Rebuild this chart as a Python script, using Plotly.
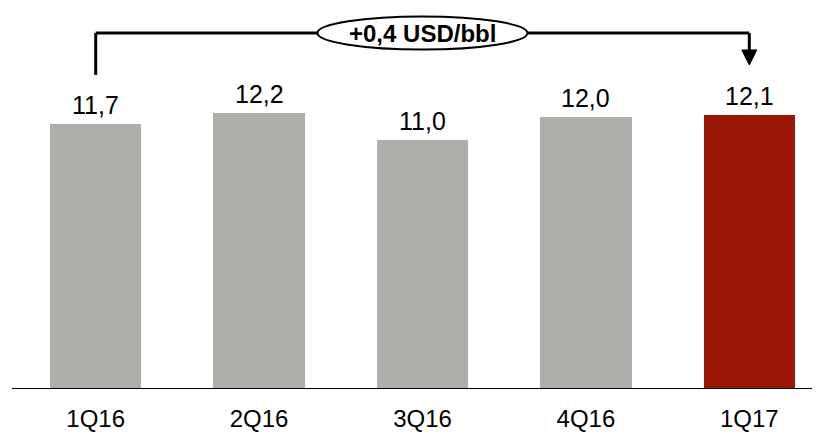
import plotly.graph_objects as go

categories = ["1Q16", "2Q16", "3Q16", "4Q16", "1Q17"]
values = [11.7, 12.2, 11.0, 12.0, 12.1]
colors = ["#AEAFAA", "#AEAFAA", "#AEAFAA", "#AEAFAA", "#9B1606"]
delta_label = "+0,4 USD/bbl"

FONT = "Liberation Sans, Arial, sans-serif"
PX_PER_UNIT = 22.66   # vertical scale (px per USD/bbl)
PX_PER_CAT = 163.4    # horizontal spacing between bars (px)
PLOT_W = 806
PLOT_H = 381

xs = list(range(len(categories)))

fig = go.Figure(go.Bar(
    x=xs, y=values,
    marker=dict(color=colors, line=dict(width=0)),
    width=0.56,
    hoverinfo="skip",
))

# value labels
for i, v in enumerate(values):
    fig.add_annotation(x=i, y=v, text=f"{v:.1f}".replace(".", ","), showarrow=False,
                       yanchor="bottom", yshift=3,
                       font=dict(family=FONT, size=25, color="black"))

y_start = values[0] + 2.16
y_top = max(values) + 3.51
y_end = values[-1] + 2.2
last = len(categories) - 1
mid = last / 2
head_len = 15 / PX_PER_UNIT
head_half = 7.5 / PX_PER_CAT

# bracket
fig.add_shape(type="line", x0=0, x1=0, y0=y_start, y1=y_top, line=dict(color="black", width=3))
fig.add_shape(type="line", x0=0, x1=last, y0=y_top, y1=y_top, line=dict(color="black", width=3))
fig.add_shape(type="line", x0=last, x1=last, y0=y_top, y1=y_end + head_len, line=dict(color="black", width=3))
fig.add_shape(type="path",
              path=f"M {last - head_half} {y_end + head_len} L {last + head_half} {y_end + head_len} L {last} {y_end} Z",
              fillcolor="black", line=dict(color="black", width=1))
ell_hw = 105 / PX_PER_CAT
ell_hh = 16.5 / PX_PER_UNIT
fig.add_shape(type="circle", x0=mid - ell_hw, x1=mid + ell_hw, y0=y_top - ell_hh, y1=y_top + ell_hh,
              line=dict(color="black", width=2), fillcolor="white", layer="above")
fig.add_annotation(x=mid, y=y_top, text="<b>" + delta_label + "</b>", showarrow=False,
                   font=dict(family=FONT, size=24, color="black"))

fig.update_layout(
    width=820, height=438,
    margin=dict(l=6, r=8, t=0, b=57),
    plot_bgcolor="white", paper_bgcolor="white",
    showlegend=False,
    bargap=0,
    xaxis=dict(range=[-0.5, -0.5 + PLOT_W / PX_PER_CAT], tickmode="array",
               tickvals=xs, ticktext=categories,
               showgrid=False, zeroline=False, showline=False,
               tickfont=dict(family=FONT, size=24, color="black"), ticks="", ticklabelstandoff=13),
    yaxis=dict(range=[0, PLOT_H / PX_PER_UNIT], visible=False, showgrid=False, zeroline=False),
)
fig.add_shape(type="line", xref="paper", yref="y", x0=-0.0025, x1=1.01, y0=0, y1=0,
              line=dict(color="black", width=2))

fig.write_html("out.html")
